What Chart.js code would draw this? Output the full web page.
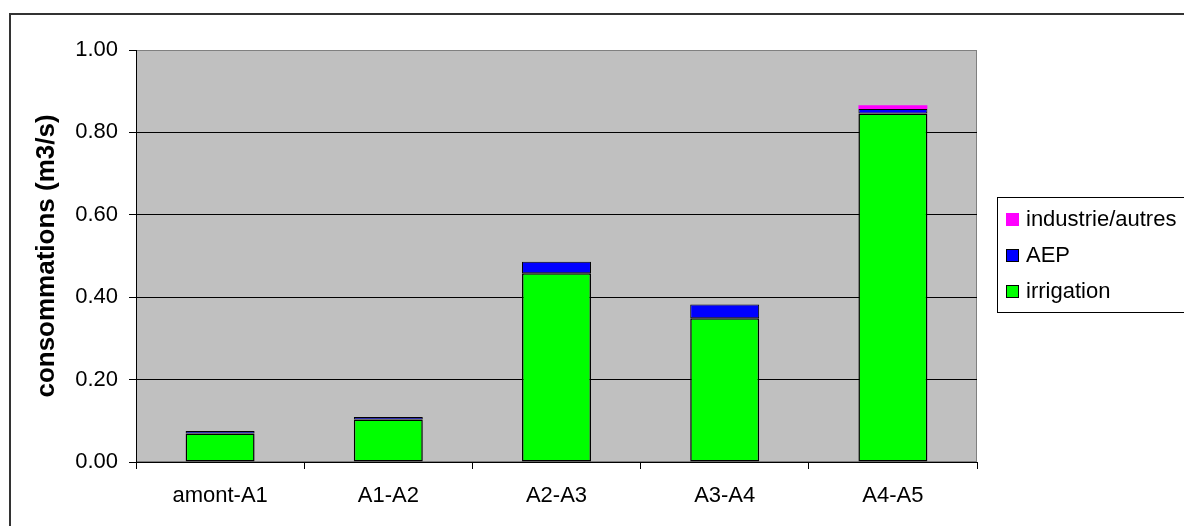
<!DOCTYPE html>
<html>
<head>
<meta charset="utf-8">
<script src="https://cdn.jsdelivr.net/npm/chart.js@4"></script>
<style>
  html, body { margin: 0; padding: 0; background: #fff; overflow: hidden; }
  #wrap { position: relative; width: 1184px; height: 526px; }
  #frame { position: absolute; left: 9px; top: 13px; width: 1300px; height: 700px;
           border-left: 2px solid #333; border-top: 2px solid #333; }
  canvas { position: absolute; left: 0; top: 0; }
</style>
</head>
<body>
<div id="wrap">
  <div id="frame"></div>
  <canvas id="chart" width="1184" height="526"></canvas>
</div>
<script>
// categories and series
var categories = ['amont-A1', 'A1-A2', 'A2-A3', 'A3-A4', 'A4-A5'];
var irrigation = [0.069, 0.103, 0.458, 0.349, 0.846];
var aep = [0.006, 0.006, 0.028, 0.033, 0.011];
var industrie = [0, 0, 0, 0, 0.009];
var yTicks = [0, 0.2, 0.4, 0.6, 0.8, 1.0];

var FONT = '"Liberation Sans", Arial, sans-serif';

// grey plot background and frame
var plotBackground = {
    id: 'plotBackground',
    beforeDraw: function(chart) {
        var a = chart.chartArea, ctx = chart.ctx;
        ctx.save();
        ctx.fillStyle = '#c0c0c0';
        ctx.fillRect(a.left, a.top, a.right - a.left, a.bottom - a.top);
        ctx.strokeStyle = '#808080';
        ctx.lineWidth = 1;
        ctx.strokeRect(a.left + 0.5, a.top + 0.5, a.right - a.left - 1, a.bottom - a.top - 1);
        ctx.restore();
    }
};

// boxed legend on the right, top series first
var boxLegend = {
    id: 'boxLegend',
    afterDraw: function(chart) {
        var ctx = chart.ctx;
        var left = 997, top = 197, bottom = 312;
        ctx.save();
        ctx.strokeStyle = '#000';
        ctx.lineWidth = 1;
        ctx.fillStyle = '#fff';
        ctx.fillRect(left, top, 400, bottom - top);
        ctx.strokeRect(left + 0.5, top + 0.5, 400, bottom - top);
        ctx.font = '22px ' + FONT;
        ctx.textBaseline = 'middle';
        var sets = chart.data.datasets.slice().reverse();
        sets.forEach(function(ds, i) {
            var cy = 219 + i * 36;
            ctx.fillStyle = ds.backgroundColor;
            ctx.fillRect(1006, cy - 6, 13, 13);
            if (ds.borderWidth > 0) {
                ctx.strokeStyle = '#000';
                ctx.strokeRect(1006.5, cy - 5.5, 12, 12);
            }
            ctx.fillStyle = '#000';
            ctx.fillText(ds.label, 1026, cy + 1);
        });
        ctx.restore();
    }
};

new Chart(document.getElementById('chart'), {
    type: 'bar',
    data: {
        labels: categories,
        datasets: [
            { label: 'irrigation', data: irrigation, backgroundColor: '#00ff00', borderWidth: 1.5 },
            { label: 'AEP', data: aep, backgroundColor: '#0000ff', borderWidth: 1 },
            { label: 'industrie/autres', data: industrie, backgroundColor: '#ff00ff', borderWidth: 0 }
        ]
    },
    options: {
        responsive: false,
        animation: false,
        layout: { padding: { left: 0, top: 50, right: 207, bottom: 0 } },
        datasets: {
            bar: {
                borderColor: '#000',
                borderSkipped: false,
                categoryPercentage: 1.0,
                barPercentage: 0.41
            }
        },
        plugins: {
            legend: { display: false },
            tooltip: { enabled: false }
        },
        scales: {
            x: {
                stacked: true,
                afterFit: function(s) { s.height = 64; },
                grid: {
                    offset: true,
                    drawOnChartArea: false,
                    drawTicks: true,
                    tickLength: 7,
                    color: '#000'
                },
                border: { color: '#000', width: 1 },
                ticks: {
                    color: '#000',
                    padding: 14,
                    maxRotation: 0,
                    font: { family: FONT, size: 22 }
                }
            },
            y: {
                stacked: true,
                min: 0,
                max: 1,
                afterFit: function(s) { s.width = 136; },
                afterBuildTicks: function(s) {
                    s.ticks = yTicks.map(function(v) { return { value: v }; });
                },
                grid: {
                    color: function(c) { return c.tick && c.tick.value === 1 ? '#808080' : '#000'; },
                    tickLength: 7,
                    tickColor: '#000'
                },
                border: { color: '#000', width: 1 },
                ticks: {
                    color: '#000',
                    padding: 11,
                    font: { family: FONT, size: 22 },
                    callback: function(v) { return Number(v).toFixed(2); }
                },
                title: {
                    display: true,
                    text: 'consommations (m3/s)',
                    color: '#000',
                    padding: { top: 31, bottom: 0 },
                    font: { family: FONT, size: 26, weight: 'bold' }
                }
            }
        }
    },
    plugins: [plotBackground, boxLegend]
});
</script>
</body>
</html>
